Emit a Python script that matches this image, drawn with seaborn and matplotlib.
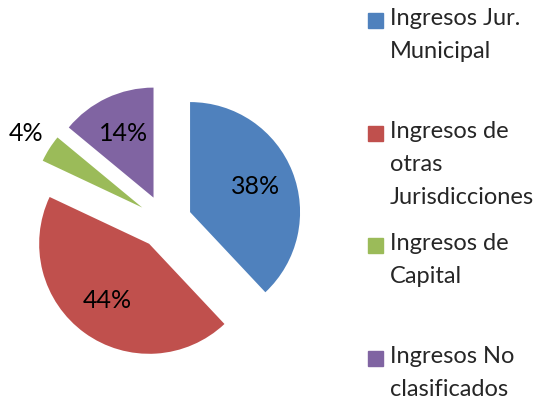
import numpy as np
import seaborn as sns
import matplotlib.pyplot as plt
from matplotlib.patches import Rectangle

# values (percent of total)
categories = ['Ingresos Jur.\nMunicipal', 'Ingresos de\notras\nJurisdicciones',
              'Ingresos de\nCapital', 'Ingresos No\nclasificados']
shares = [38, 44, 4, 14]
colors = ['#4F81BD', '#C0504D', '#9BBB59', '#8064A2']

sns.set_theme(style='white')
plt.rcParams['font.family'] = ['Lato', 'DejaVu Sans']

fig = plt.figure(figsize=(5.4, 4.04), dpi=100)
ax = fig.add_axes([0, 0, 1, 1])

palette = sns.color_palette(colors)
wedges, texts, autotexts = ax.pie(
    shares, colors=palette, startangle=90, counterclock=False,
    explode=[0.245] * len(shares), autopct='%1.0f%%', pctdistance=0.64,
    textprops={'fontsize': 18, 'color': 'black'},
    wedgeprops={'linewidth': 0})

# small slice gets its label outside the wedge
for w, t, v in zip(wedges, autotexts, shares):
    if v < 5:
        mid = np.deg2rad((w.theta1 + w.theta2) / 2)
        cx, cy = w.center
        t.set_position((cx + 1.25 * w.r * np.cos(mid), cy + 1.25 * w.r * np.sin(mid)))

# pie of radius 1 -> 110 px, centre at (165, 222) px
ax.set_aspect('auto')
ax.set_xlim(-165 / 110, (540 - 165) / 110)
ax.set_ylim(-(404 - 222) / 110, 222 / 110)
ax.axis('off')

# legend, Excel style
W, H = 540, 404
tops = [13, 126, 238, 351]
for lab, col, top in zip(categories, palette, tops):
    fig.patches.append(Rectangle((368 / W, 1 - (top + 15) / H), 15 / W, 15 / H,
                                 transform=fig.transFigure, color=col))
    fig.text(390 / W, 1 - (top - 5) / H, lab, ha='left', va='top',
             fontsize=17, linespacing=1.7)

fig.savefig('out.png', dpi=100)
